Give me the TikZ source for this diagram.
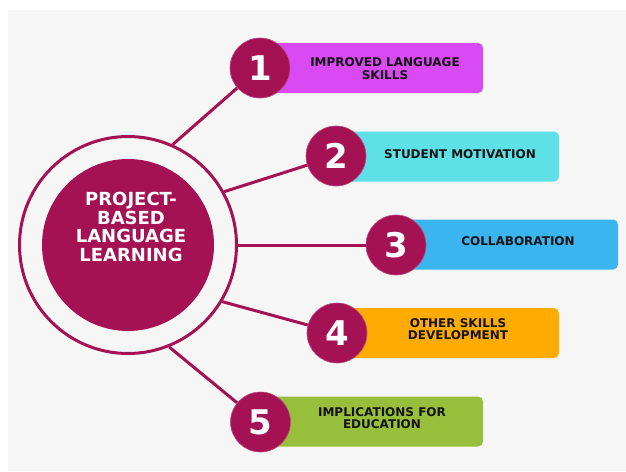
\documentclass[tikz,border=0pt]{standalone}
\usepackage{fontspec}
\setmainfont{DejaVu Sans}
\definecolor{plum}{HTML}{A51254}
\definecolor{panel}{HTML}{F6F6F6}
\definecolor{violetbox}{HTML}{DA4AF4}
\definecolor{cyanbox}{HTML}{5EE1E6}
\definecolor{bluebox}{HTML}{3AB5F0}
\definecolor{orangebox}{HTML}{FFAB00}
\definecolor{greenbox}{HTML}{97BF3B}
\begin{document}
\begin{tikzpicture}[x=1pt,y=-1pt,
  numc/.style={circle,fill=plum,draw=plum!75!white,line width=0.6pt,
    minimum size=60pt,inner sep=0pt,text=white,
    font=\fontsize{34}{34}\selectfont\bfseries},
  tagbox/.style={rounded corners=5pt,minimum height=50pt,inner sep=0pt},
  tagtext/.style={align=center,inner sep=0pt,text=black!92,
    font=\fontsize{12}{12.5}\selectfont\bfseries},
  link/.style={plum,line width=3pt}]
  % canvas
  \useasboundingbox (0,0) rectangle (626,471);
  \fill[white] (0,0) rectangle (626,471);
  \fill[panel] (8,10) rectangle (626,471);

  % central hub
  \node[circle,draw=plum,line width=3pt,minimum size=217pt,inner sep=0pt] (hub) at (128,245) {};
  \node[circle,fill=plum,minimum size=172pt,inner sep=0pt] (core) at (128,245) {};
  \node[align=center,text=white,inner sep=0pt,
        font=\fontsize{18}{18.7}\selectfont\bfseries] (title) at (131,227)
        {PROJECT-\\BASED\\LANGUAGE\\LEARNING};

  % coloured tabs
  \node[tagbox,fill=violetbox,minimum width=221pt] (b1) at (372.5,68) {};
  \node[tagbox,fill=cyanbox,minimum width=223pt]   (b2) at (447.5,156.5) {};
  \node[tagbox,fill=bluebox,minimum width=222pt]   (b3) at (507,244.5) {};
  \node[tagbox,fill=orangebox,minimum width=222pt] (b4) at (448,333) {};
  \node[tagbox,fill=greenbox,minimum width=222pt]  (b5) at (372,421.5) {};

  \node[tagtext] (t1) at (385,68.5) {IMPROVED LANGUAGE\\SKILLS};
  \node[tagtext] (t2) at (460,154.5) {STUDENT MOTIVATION};
  \node[tagtext] (t3) at (518,241.5) {COLLABORATION};
  \node[tagtext] (t4) at (458,329) {OTHER SKILLS\\DEVELOPMENT};
  \node[tagtext] (t5) at (382,418) {IMPLICATIONS FOR\\EDUCATION};

  % numbered discs
  \node[numc] (n1) at (260,68) {1};
  \node[numc] (n2) at (336,156) {2};
  \node[numc] (n3) at (396,245) {3};
  \node[numc] (n4) at (337,333) {4};
  \node[numc] (n5) at (260.5,422) {5};

  % spokes
  \draw[link] (hub.66.5) -- (n1);
  \draw[link] (hub.29) -- (n2);
  \draw[link] (hub.0) -- (n3);
  \draw[link] (hub.-31.6) -- (n4);
  \draw[link] (hub.-68.8) -- (n5);
\end{tikzpicture}
\end{document}
